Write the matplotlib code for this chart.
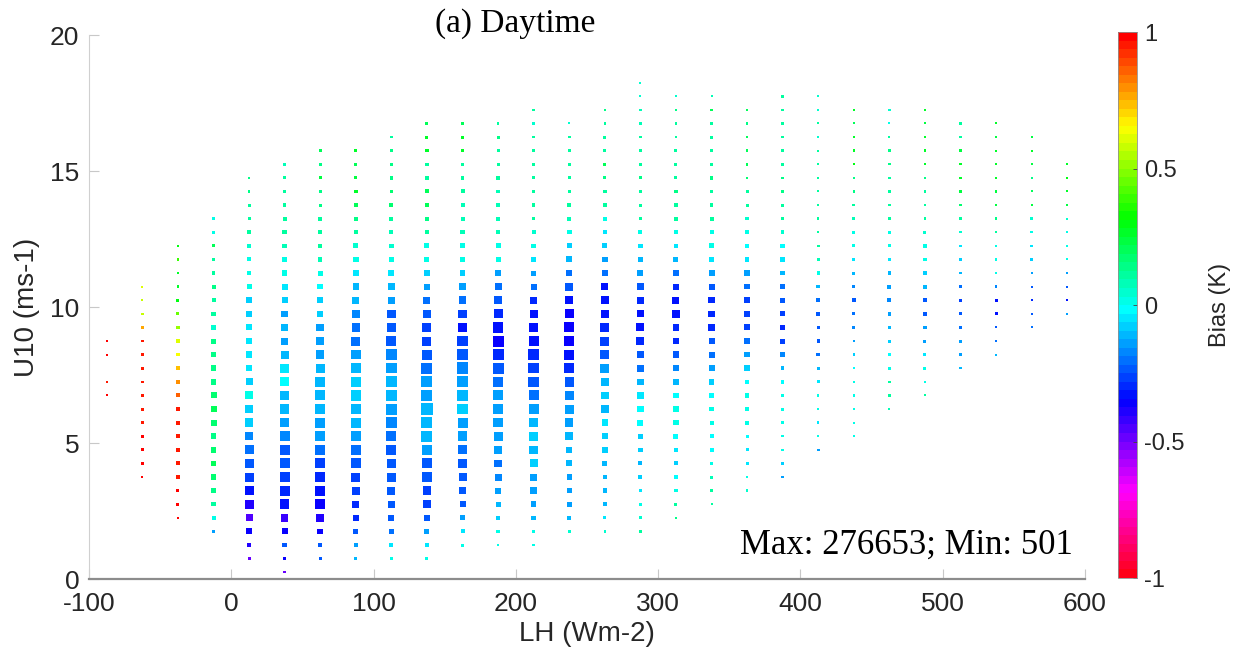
import numpy as np
import matplotlib
matplotlib.use('Agg')
import matplotlib.pyplot as plt
from matplotlib.colors import ListedColormap, hsv_to_rgb

nan = np.nan

# LH bin centres (W m-2) and the lowest U10 bin (m s-1) of each column
lh_bins = [-87.5, -62.5, -37.5, -12.5, 12.5, 37.5, 62.5, 87.5, 112.5, 137.5,
           162.5, 187.5, 212.5, 237.5, 262.5, 287.5, 312.5, 337.5, 362.5, 387.5,
           412.5, 437.5, 462.5, 487.5, 512.5, 537.5, 562.5, 587.5]
u10_start = [6.75, 3.75, 2.25, 1.75, 0.75, 0.25, 0.75, 0.75, 0.75, 0.75,
             1.25, 1.25, 1.25, 1.75, 1.75, 1.75, 2.25, 2.75, 3.25, 3.75,
             4.75, 5.25, 6.25, 6.75, 7.75, 8.25, 9.25, 9.75]
u10_step = 0.5

# mean bias (K) per 0.5 m/s U10 bin, bottom to top
bias = [
    [0.97, 0.96, nan, 0.97, 0.97],
    [0.97, 0.97, 0.97, 0.97, 0.96, 0.96, 0.96, 0.95, 0.95, 0.95, 0.94, 0.78, 0.58, 0.58, 0.6],
    [0.97, 0.97, 0.97, 0.96, 0.96, 0.96, 0.96, 0.96, 0.95, 0.85, 0.8, 0.72, 0.65, 0.6, 0.5,
     0.45, 0.3, 0.25, 0.25, 0.38, 0.3],
    [-0.15, 0.02, 0.12, 0.15, 0.18, 0.2, 0.18, 0.15, 0.18, 0.2, 0.18, 0.15, 0.15, 0.15, 0.15,
     0.05, 0.1, 0.1, 0.15, 0.1, 0.1, 0.2, 0.02, 0.0],
    [-0.48, -0.4, -0.37, -0.45, -0.38, -0.33, -0.28, -0.25, -0.2, -0.17, -0.08, -0.08, 0.0,
     -0.08, -0.06, -0.05, -0.05, -0.05, -0.08, -0.08, 0.0, 0.02, 0.03, 0.06, 0.1, 0.1, 0.12,
     0.14, 0.15],
    [-0.5, -0.35, -0.25, -0.36, -0.42, -0.34, -0.3, -0.28, -0.25, -0.22, -0.17, -0.13, -0.12,
     -0.1, -0.03, -0.05, -0.12, -0.15, -0.12, -0.13, -0.08, -0.05, 0.0, 0.02, 0.08, 0.1, 0.12,
     0.12, 0.12, 0.1, 0.08],
    [-0.22, -0.25, -0.35, -0.4, -0.35, -0.33, -0.3, -0.28, -0.2, -0.15, -0.15, -0.12, -0.1,
     -0.1, -0.1, -0.15, -0.13, -0.15, -0.08, -0.07, -0.03, 0.02, 0.08, 0.1, 0.12, 0.12, 0.15,
     0.15, 0.22, 0.15, 0.2],
    [-0.1, -0.13, -0.25, -0.3, -0.3, -0.27, -0.28, -0.25, -0.2, -0.15, -0.12, -0.1, -0.07,
     -0.08, -0.1, -0.15, -0.2, -0.2, -0.18, -0.12, -0.1, -0.05, 0.02, 0.05, 0.12, 0.15, 0.2,
     0.25, 0.22, 0.2, 0.25],
    [0.0, -0.05, -0.2, -0.25, -0.25, -0.22, -0.25, -0.25, -0.22, -0.2, -0.18, -0.15, -0.12,
     -0.12, -0.15, -0.18, -0.22, -0.25, -0.22, -0.15, -0.1, -0.05, 0.02, 0.05, 0.08, 0.12,
     0.18, 0.18, 0.15, 0.15, 0.15, 0.12],
    [0.0, -0.05, -0.15, -0.22, -0.28, -0.27, -0.25, -0.22, -0.15, -0.12, -0.12, -0.1, -0.13,
     -0.15, -0.2, -0.25, -0.28, -0.28, -0.25, -0.2, -0.15, -0.08, 0.0, 0.02, 0.12, 0.15, 0.2,
     0.2, 0.12, 0.12, 0.25, 0.25, 0.2],
    [0.0, -0.05, -0.15, -0.22, -0.25, -0.25, -0.22, -0.2, -0.15, -0.13, -0.08, -0.1, -0.15,
     -0.18, -0.23, -0.28, -0.32, -0.27, -0.2, -0.13, -0.08, 0.0, 0.02, 0.08, 0.08, 0.08, 0.1,
     0.1, 0.12, 0.25, 0.25, 0.2],
    [0.0, 0.0, -0.08, -0.12, -0.15, -0.18, -0.2, -0.13, -0.13, -0.13, -0.13, -0.15, -0.2,
     -0.25, -0.3, -0.35, -0.33, -0.3, -0.25, -0.2, -0.15, 0.0, 0.02, 0.08, 0.08, 0.08, 0.08,
     0.1, 0.1, 0.12, 0.15, 0.12],
    [0.0, 0.0, -0.1, -0.13, -0.13, -0.13, -0.08, -0.1, -0.08, -0.1, -0.15, -0.2, -0.22, -0.27,
     -0.3, -0.32, -0.33, -0.33, -0.3, -0.2, -0.15, -0.05, 0.02, 0.05, 0.1, 0.1, 0.12, 0.12,
     0.1, 0.12, 0.12, 0.05, 0.1],
    [0.05, -0.1, -0.15, -0.15, -0.13, -0.1, -0.1, -0.1, -0.13, -0.15, -0.18, -0.23, -0.3,
     -0.33, -0.36, -0.35, -0.35, -0.33, -0.25, -0.2, -0.1, -0.08, 0.02, 0.08, 0.1, 0.12, 0.12,
     0.12, 0.12, 0.12, 0.05],
    [0.05, -0.05, -0.12, -0.12, -0.1, -0.1, -0.08, -0.07, -0.05, -0.1, -0.08, -0.12, -0.15,
     -0.25, -0.28, -0.3, -0.33, -0.33, -0.32, -0.2, -0.15, -0.08, -0.05, 0.03, 0.1, 0.12, 0.15,
     0.2, 0.12, 0.12, 0.12, 0.15],
    [0.12, 0.05, 0.0, -0.05, -0.07, -0.1, -0.08, -0.08, -0.03, -0.02, -0.05, -0.1, -0.2,
     -0.22, -0.3, -0.33, -0.33, -0.3, -0.25, -0.15, -0.1, -0.05, 0.02, 0.12, 0.12, 0.12, 0.15,
     0.1, 0.12, 0.12, 0.08, 0.08, 0.05, 0.05],
    [0.15, 0.1, 0.02, -0.03, -0.07, -0.05, -0.03, 0.0, 0.0, -0.02, -0.1, -0.18, -0.22, -0.3,
     -0.3, -0.33, -0.33, -0.3, -0.2, -0.12, -0.05, 0.03, 0.12, 0.12, 0.15, 0.12, 0.12, 0.12,
     0.12, 0.12, 0.15, 0.05],
    [0.12, 0.12, 0.08, 0.02, -0.02, -0.03, 0.0, 0.0, -0.02, -0.08, -0.15, -0.2, -0.25, -0.3,
     -0.3, -0.3, -0.22, -0.15, -0.05, 0.0, 0.03, 0.1, 0.12, 0.12, 0.15, 0.12, 0.12, 0.12, 0.12,
     0.2, 0.08],
    [0.05, 0.0, -0.05, -0.05, -0.03, 0.0, 0.0, 0.0, -0.02, -0.08, -0.15, -0.2, -0.27, -0.28,
     -0.28, -0.2, -0.15, -0.05, -0.02, 0.03, 0.05, 0.1, 0.1, 0.18, 0.2, 0.2, 0.2, 0.15, 0.2],
    [-0.15, -0.08, 0.0, 0.0, 0.0, 0.0, 0.0, -0.02, -0.1, -0.18, -0.28, -0.3, -0.28, -0.25,
     -0.2, -0.12, -0.05, -0.02, 0.05, 0.1, 0.1, 0.15, 0.15, 0.12, 0.12, 0.12, 0.12, 0.12, 0.12],
    [-0.15, 0.0, -0.05, 0.0, 0.0, -0.05, -0.12, -0.2, -0.23, -0.25, -0.25, -0.2, -0.1, 0.0,
     0.08, 0.12, 0.12, 0.12, 0.1, 0.1, 0.1, 0.1, 0.1, 0.05, 0.1, 0.05, 0.05],
    [0.0, 0.02, 0.02, 0.0, 0.0, -0.02, -0.08, -0.15, -0.18, -0.2, -0.22, -0.17, -0.1, -0.05,
     0.0, 0.02, 0.08, 0.1, 0.15, 0.15, 0.3, 0.25, 0.25, 0.2, 0.25],
    [0.08, 0.12, 0.1, 0.0, -0.03, -0.08, -0.1, -0.15, -0.18, -0.15, -0.12, -0.05, 0.0, 0.03,
     0.1, 0.12, 0.12, 0.12, 0.15, 0.15, 0.1, 0.02, 0.05],
    [0.1, 0.02, 0.0, -0.05, -0.15, -0.15, -0.22, -0.25, -0.12, -0.08, 0.0, 0.02, 0.05, 0.12,
     0.12, 0.12, 0.15, 0.25, 0.25, 0.25, 0.22, 0.25],
    [-0.12, -0.13, -0.15, -0.2, -0.25, -0.28, -0.2, -0.12, -0.08, -0.05, 0.05, 0.12, 0.18,
     0.22, 0.28, 0.25, 0.22, 0.12, 0.12],
    [-0.1, -0.2, -0.25, -0.33, -0.33, -0.17, 0.02, 0.02, 0.0, 0.1, 0.15, 0.22, 0.22, 0.25,
     0.25, 0.25, 0.22, 0.25],
    [-0.2, -0.25, -0.3, -0.25, -0.15, -0.08, -0.05, 0.02, 0.05, 0.22, 0.2, 0.15, 0.22, 0.25, 0.22],
    [-0.15, -0.33, -0.25, -0.15, 0.0, 0.02, 0.0, 0.05, 0.22, 0.25, 0.3, 0.25],
]

# number of samples (thousands) in the same bins
counts = [
    [1.2, 0.501, nan, 0.9, 1.1],
    [1, 6, 12, 12, 12, 12, 12, 6, 11, 11, 10, 6, 5, 1.5, 1],
    [1, 11, 12, 18, 26, 27, 27, 27, 26, 26, 24, 22, 19, 18, 17, 12, 11, 10, 9, 6, 5],
    [6, 27, 36, 46, 57, 57, 57, 57, 70, 70, 70, 57, 57, 46, 46, 36, 36, 27, 27, 19, 19, 12,
     12, 11],
    [12, 19, 70, 97, 166, 166, 166, 166, 166, 147, 147, 130, 130, 97, 83, 83, 70, 70, 57, 57,
     46, 27, 27, 19, 19, 12, 12, 6, 1],
    [5, 12, 36, 70, 113, 186, 207, 207, 207, 207, 207, 186, 186, 166, 166, 166, 130, 97, 83,
     83, 70, 70, 57, 46, 36, 36, 27, 19, 12, 11, 11],
    [12, 36, 57, 130, 186, 207, 229, 207, 207, 207, 207, 207, 207, 186, 166, 147, 130, 113,
     83, 70, 57, 46, 36, 27, 27, 26, 12, 12, 11, 11, 10],
    [12, 27, 46, 70, 97, 130, 166, 207, 207, 207, 207, 229, 229, 229, 207, 186, 166, 147, 113,
     97, 83, 70, 57, 46, 36, 27, 19, 18, 12, 11, 10],
    [12, 27, 46, 70, 97, 130, 166, 186, 207, 207, 229, 252, 252, 252, 229, 229, 207, 166, 147,
     97, 83, 70, 57, 36, 27, 27, 26, 19, 18, 12, 11, 10],
    [12, 27, 46, 70, 113, 147, 186, 207, 229, 252, 252, 265, 252, 252, 252, 207, 166, 166,
     130, 97, 70, 57, 46, 46, 27, 27, 26, 26, 19, 18, 18, 12, 11],
    [12, 27, 46, 70, 97, 130, 147, 166, 186, 207, 229, 252, 265, 276.653, 252, 229, 186, 147,
     113, 83, 57, 46, 45, 36, 27, 27, 26, 19, 18, 18, 12, 11],
    [6, 19, 36, 46, 70, 97, 113, 147, 166, 186, 207, 207, 229, 252, 252, 252, 229, 166, 130,
     97, 70, 46, 46, 27, 27, 26, 19, 18, 12, 11, 11, 6],
    [6, 19, 36, 57, 83, 97, 130, 147, 166, 186, 207, 207, 229, 229, 229, 207, 166, 130, 97,
     70, 46, 36, 35, 27, 19, 18, 18, 12, 11, 11, 10, 6, 5],
    [12, 27, 46, 45, 57, 70, 83, 130, 147, 166, 186, 186, 207, 207, 207, 207, 166, 130, 130,
     83, 70, 46, 36, 27, 19, 18, 12, 11, 6, 6, 1],
    [6, 12, 27, 36, 35, 46, 57, 83, 83, 113, 113, 147, 166, 166, 166, 166, 130, 130, 97, 70,
     57, 46, 27, 26, 19, 18, 12, 12, 11, 11, 6, 5],
    [6, 12, 11, 19, 27, 26, 36, 46, 70, 83, 83, 83, 97, 113, 130, 130, 97, 97, 83, 70, 46, 36,
     27, 19, 12, 11, 11, 6, 6, 5, 5, 5, 1, 1],
    [6, 12, 19, 18, 27, 36, 46, 57, 57, 56, 70, 70, 83, 83, 83, 113, 97, 70, 70, 46, 36, 35,
     27, 19, 18, 12, 11, 11, 6, 6, 5, 1],
    [1, 6, 12, 19, 27, 26, 26, 36, 57, 56, 70, 70, 69, 83, 83, 82, 70, 69, 57, 46, 27, 26, 19,
     18, 18, 12, 11, 11, 11, 6, 1],
    [6, 5, 12, 11, 11, 27, 26, 36, 35, 57, 57, 56, 70, 70, 69, 57, 56, 36, 35, 19, 18, 12, 11,
     6, 6, 5, 5, 5, 1],
    [6, 5, 5, 5, 12, 11, 19, 18, 18, 36, 46, 46, 45, 45, 44, 36, 35, 35, 19, 18, 12, 11, 6, 6,
     5, 5, 5, 5, 6],
    [6, 5, 5, 5, 5, 12, 11, 19, 18, 18, 27, 26, 19, 18, 12, 6, 5, 5, 1.2, 1, 0.9, 1.1, 1, 0.8,
     1, 1.2, 0.9],
    [1, 1.2, 0.9, 6, 5, 5, 5, 5, 12, 11, 19, 12, 11, 11, 11, 11, 10, 10, 5, 5, 5, 5, 4, 1, 1.1],
    [1, 6, 5, 12, 11, 11, 19, 18, 27, 26, 19, 18, 11, 11, 6, 5, 5, 5, 5, 5, 1, 1, 6],
    [1, 1.2, 12, 11, 11, 19, 18, 18, 27, 19, 18, 18, 11, 6, 5, 5, 5, 5, 5, 5, 1, 1],
    [5, 12, 11, 6, 12, 11, 11, 10, 5, 5, 5, 5, 5, 5, 5, 5, 5, 5, 5],
    [1, 1, 1.2, 12, 11, 6, 5, 5, 5, 5, 5, 5, 5, 1, 1, 1, 1, 1],
    [1, 1, 1, 1, 1, 5, 5, 5, 5, 1, 1, 1, 1, 1, 1],
    [1, 1, 1, 1, 1, 1, 1, 1, 1, 1, 1, 1],
]

# flatten the columns into points
xs, ys, bs, cs = [], [], [], []
for lh, y0, bcol, ccol in zip(lh_bins, u10_start, bias, counts):
    for i, (b, c) in enumerate(zip(bcol, ccol)):
        if np.isnan(b):
            continue
        xs.append(lh)
        ys.append(y0 + u10_step * i)
        bs.append(b)
        cs.append(c)
cs = np.array(cs)

# marker area grows linearly with the sample count
sizes = 2 + 66.5 * (cs - cs.min()) / (cs.max() - cs.min())

# 64-level hsv map running red -> magenta -> blue -> cyan -> green -> yellow -> red
hues = np.arange(63, -1, -1) / 64.0
cmap = ListedColormap(hsv_to_rgb(np.column_stack([hues, np.ones(64), np.ones(64)])))

plt.rcParams['font.family'] = 'Liberation Sans'
plt.rcParams['axes.unicode_minus'] = False
text_col = '#262626'

fig = plt.figure(figsize=(12.33, 6.65), dpi=100)
ax = fig.add_axes([0.0722, 0.1293, 0.8078, 0.818])
sc = ax.scatter(xs, ys, s=sizes, c=bs, cmap=cmap, vmin=-1, vmax=1,
                marker='s', linewidths=0)

ax.set_xlim(-100, 600)
ax.set_ylim(0, 20)
ax.set_xticks(np.arange(-100, 601, 100))
ax.set_yticks([0, 5, 10, 15, 20])
ax.tick_params(direction='in', length=7, width=0.8, color='#c8c8c8',
               labelsize=19, labelcolor=text_col)
ax.tick_params(axis='x', pad=9)
ax.tick_params(axis='y', pad=7)
for side in ['top', 'right']:
    ax.spines[side].set_visible(False)
ax.spines['left'].set_color('#d0d0d0')
ax.spines['left'].set_linewidth(0.8)
ax.spines['bottom'].set_color('#8c8c8c')
ax.spines['bottom'].set_linewidth(1.6)

ax.set_xlabel('LH (Wm-2)', fontsize=20, color=text_col, labelpad=4)
ax.set_ylabel('U10 (ms-1)', fontsize=20, color=text_col, labelpad=7)

ax.text(0.988, 0.062,
        f"Max: {round(cs.max() * 1000)}; Min: {round(cs.min() * 1000)}",
        transform=ax.transAxes, ha='right', va='center',
        family='Liberation Serif', fontsize=25, color='black')
fig.text(0.418, 0.965, '(a) Daytime', ha='center', va='center',
         family='Liberation Serif', fontsize=24, color='black')

# colorbar
cax = fig.add_axes([0.9067, 0.1308, 0.0154, 0.821])
cb = fig.colorbar(sc, cax=cax, ticks=[-1, -0.5, 0, 0.5, 1])
cb.ax.set_yticklabels(['-1', '-0.5', '0', '0.5', '1'])
cb.ax.tick_params(direction='in', length=3, width=0.6, color='#404040',
                  labelsize=17, labelcolor=text_col, pad=5)
cb.outline.set_edgecolor('#909090')
cb.outline.set_linewidth(0.6)
cb.set_label('Bias (K)', fontsize=17, color=text_col, labelpad=18)

fig.savefig('out.png', dpi=100)
